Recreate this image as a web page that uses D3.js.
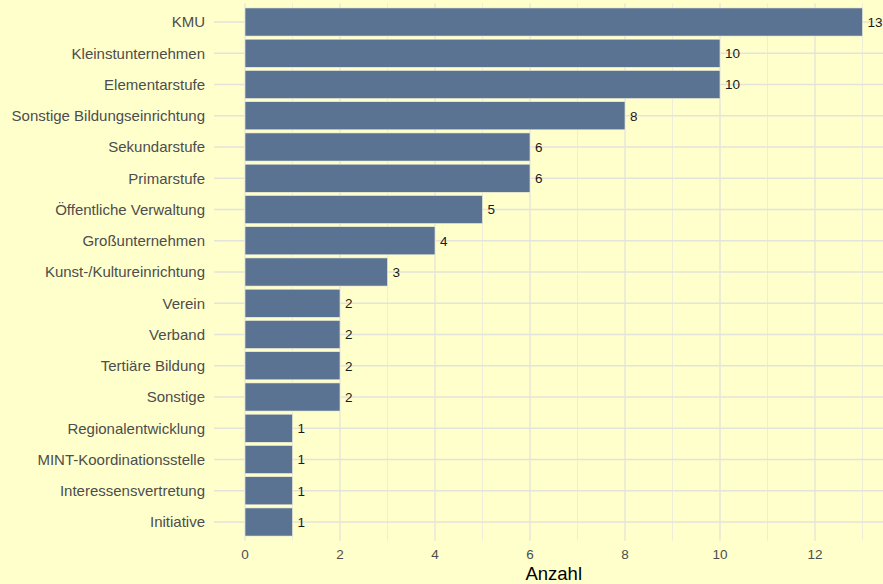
<!DOCTYPE html>
<html>
<head>
<meta charset="utf-8">
<script src="https://cdn.jsdelivr.net/npm/d3@7"></script>
<style>
  html, body { margin: 0; padding: 0; background: #FFFFCC; }
  svg { display: block; }
</style>
</head>
<body>
<svg id="chart" width="883" height="584"></svg>
<script>
// Anzahl je Einrichtungstyp, absteigend sortiert
const categories = [
  "KMU", "Kleinstunternehmen", "Elementarstufe", "Sonstige Bildungseinrichtung",
  "Sekundarstufe", "Primarstufe", "Öffentliche Verwaltung", "Großunternehmen",
  "Kunst-/Kultureinrichtung", "Verein", "Verband", "Tertiäre Bildung", "Sonstige",
  "Regionalentwicklung", "MINT-Koordinationsstelle", "Interessensvertretung", "Initiative"
];
const counts = [13, 10, 10, 8, 6, 6, 5, 4, 3, 2, 2, 2, 2, 1, 1, 1, 1];
const xTicks = [0, 2, 4, 6, 8, 10, 12];
const xMinor = [1, 3, 5, 7, 9, 11, 13];

const FONT = "Liberation Sans, Arial, Helvetica, sans-serif";
const svg = d3.select("#chart");

const unit = 47.5;            // px per count
const x0 = 245;               // position of zero
const x = d3.scaleLinear().domain([0, 1]).range([x0, x0 + unit]);
const panelLeft = x(-0.65), panelRight = x(13.65);

const yStep = 31.25;
const y = d3.scaleBand()
  .domain(categories)
  .range([22 - yStep / 2, 22 + yStep * (categories.length - 0.5)])
  .paddingInner(0.1).paddingOuter(0.05);
const yc = d => y(d) + y.bandwidth() / 2;
const panelTop = 22 - 0.6 * yStep;
const panelBottom = yc(categories[categories.length - 1]) + 0.6 * yStep;

const grid = svg.append("g");
// minor vertical grid
grid.selectAll("line.minor").data(xMinor).join("line")
  .attr("x1", d => x(d)).attr("x2", d => x(d))
  .attr("y1", panelTop).attr("y2", panelBottom)
  .attr("stroke", "#E6E6DC").attr("stroke-width", 0.7);
// major vertical grid
grid.selectAll("line.major").data(xTicks).join("line")
  .attr("x1", d => x(d)).attr("x2", d => x(d))
  .attr("y1", panelTop).attr("y2", panelBottom)
  .attr("stroke", "#E3E3DA").attr("stroke-width", 1.3);
// horizontal grid
grid.selectAll("line.h").data(categories).join("line")
  .attr("x1", panelLeft).attr("x2", panelRight)
  .attr("y1", d => yc(d)).attr("y2", d => yc(d))
  .attr("stroke", "#E3E3DA").attr("stroke-width", 1.3);

// bars
svg.append("g").selectAll("rect").data(categories).join("rect")
  .attr("x", x(0))
  .attr("y", d => y(d))
  .attr("width", (d, i) => x(counts[i]) - x(0))
  .attr("height", y.bandwidth())
  .attr("fill", "#5B7393")
  .attr("stroke", "#F4F4DA").attr("stroke-width", 0.6);

// value labels
svg.append("g").selectAll("text").data(categories).join("text")
  .attr("x", (d, i) => x(counts[i]) + 5)
  .attr("y", d => yc(d))
  .attr("dy", "0.36em")
  .attr("font-family", FONT)
  .attr("font-size", 13.5)
  .attr("fill", "#1A1A1A")
  .text((d, i) => counts[i]);

// y axis labels
svg.append("g").selectAll("text").data(categories).join("text")
  .attr("x", 205)
  .attr("y", d => yc(d))
  .attr("dy", "0.36em")
  .attr("text-anchor", "end")
  .attr("font-family", FONT)
  .attr("font-size", 15)
  .attr("fill", "#4D4D4D")
  .text(d => d);

// x axis labels
svg.append("g").selectAll("text").data(xTicks).join("text")
  .attr("x", d => x(d))
  .attr("y", 559)
  .attr("text-anchor", "middle")
  .attr("font-family", FONT)
  .attr("font-size", 13.5)
  .attr("fill", "#4D4D4D")
  .text(d => d);

// x axis title
svg.append("text")
  .attr("x", (panelLeft + panelRight) / 2)
  .attr("y", 580)
  .attr("text-anchor", "middle")
  .attr("font-family", FONT)
  .attr("font-size", 18.5)
  .attr("fill", "#000")
  .text("Anzahl");
</script>
</body>
</html>
